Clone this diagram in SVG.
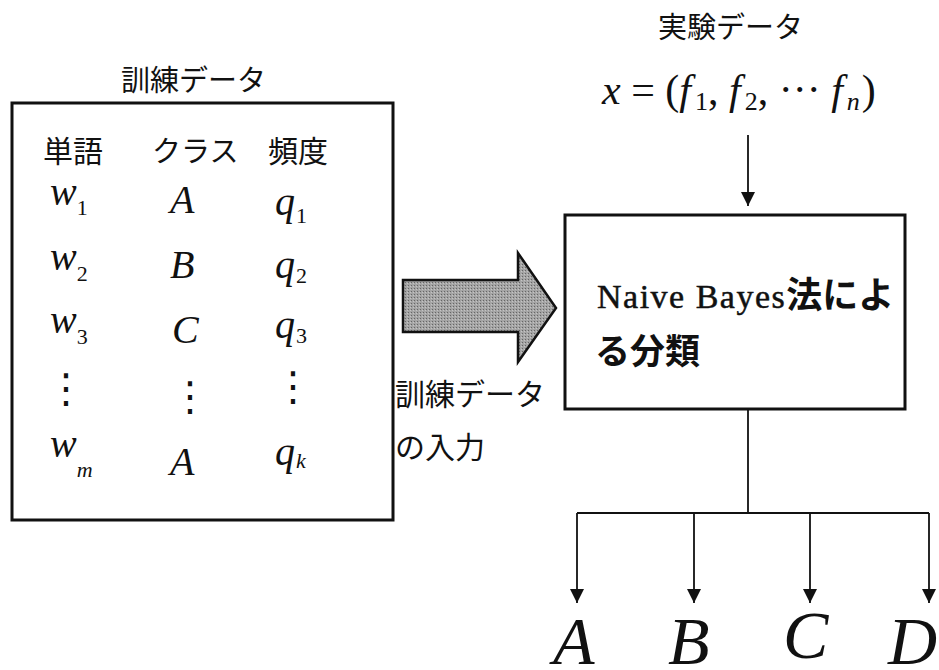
<svg xmlns="http://www.w3.org/2000/svg" width="939" height="670" viewBox="0 0 939 670">
<defs>
<style>
.jp{font-family:"Noto Sans CJK JP",sans-serif;fill:#111}
.m{font-family:"Liberation Serif",serif;font-style:italic;fill:#111}
.up{font-style:normal}
.box{fill:#fff;stroke:#111;stroke-width:3}
.ln{fill:none;stroke:#111;stroke-width:1.8}
.dots{font-family:"DejaVu Sans",sans-serif;fill:#111}
</style>
<marker id="ah" viewBox="0 0 14 14" refX="14" refY="7" markerWidth="14" markerHeight="14" markerUnits="userSpaceOnUse" orient="auto">
<path d="M0,0 L14,7 L0,14 z" fill="#111"/>
</marker>
<pattern id="stip" width="3" height="3" patternUnits="userSpaceOnUse">
<rect width="3" height="3" fill="#a4a4a4"/>
<rect width="1" height="1" fill="#666"/>
<rect x="2" y="1" width="1" height="1" fill="#c4c4c4"/>
</pattern>
</defs>
<rect width="939" height="670" fill="#fff"/>

<g id="training-data">
<text class="jp" x="121" y="91" font-size="29">訓練データ</text>
<rect class="box" x="12" y="103" width="381" height="417"/>
<text class="jp" x="43" y="162" font-size="30">単語</text>
<text class="jp" x="152" y="162" font-size="29">クラス</text>
<text class="jp" x="268" y="162" font-size="30">頻度</text>

<text class="m" x="50" y="205" font-size="40">w<tspan class="up" font-size="22" dy="10">1</tspan></text>
<text class="m" x="170" y="213" font-size="40">A</text>
<text class="m" x="275" y="215" font-size="40">q<tspan class="up" font-size="22" dx="1" dy="8">1</tspan></text>

<text class="m" x="50" y="270" font-size="40">w<tspan class="up" font-size="22" dy="11">2</tspan></text>
<text class="m" x="170" y="278" font-size="40">B</text>
<text class="m" x="275" y="278" font-size="40">q<tspan class="up" font-size="22" dx="1" dy="5">2</tspan></text>

<text class="m" x="50" y="333" font-size="40">w<tspan class="up" font-size="22" dy="11">3</tspan></text>
<text class="m" x="172" y="343" font-size="40">C</text>
<text class="m" x="275" y="338" font-size="40">q<tspan class="up" font-size="22" dx="1" dy="5">3</tspan></text>

<text class="dots" x="46" y="402" font-size="40">⋮</text>
<text class="dots" x="170" y="410" font-size="40">⋮</text>
<text class="dots" x="273" y="400" font-size="40">⋮</text>

<text class="m" x="50" y="457" font-size="40">w<tspan font-size="22" dy="20">m</tspan></text>
<text class="m" x="170" y="475" font-size="40">A</text>
<text class="m" x="275" y="465" font-size="40">q<tspan font-size="22" dx="1" dy="3">k</tspan></text>
</g>

<g id="input-arrow">
<polygon points="403,280 518,280 518,253 556,308 518,362 518,332 403,332" fill="url(#stip)" stroke="#111" stroke-width="2.5" stroke-linejoin="miter"/>
<text class="jp" x="395" y="405" font-size="30">訓練データ</text>
<text class="jp" x="395" y="458" font-size="30">の入力</text>
</g>

<g id="test-data">
<text class="jp" x="658" y="38" font-size="29">実験データ</text>
<text class="m" x="602" y="104" font-size="42">x<tspan class="up"> = (</tspan>f<tspan class="up" font-size="26" dx="4" dy="6">1</tspan><tspan class="up" dy="-6">, </tspan>f<tspan class="up" font-size="26" dx="4" dy="6">2</tspan><tspan class="up" dy="-6">, ··· </tspan>f<tspan font-size="26" dx="4" dy="6">n</tspan><tspan class="up" dx="2" dy="-6">)</tspan></text>
</g>

<g id="classifier">
<rect class="box" x="565" y="215" width="340" height="194"/>
<text x="597" y="308" style="font-family:'Liberation Serif','Noto Sans CJK JP',serif;fill:#111"><tspan font-size="34" letter-spacing="1.5" stroke="#111" stroke-width="0.5">Naive Bayes</tspan><tspan font-size="36" font-weight="bold" style="font-family:'Noto Sans CJK JP',sans-serif">法によ</tspan></text>
<text class="jp" x="595" y="364" font-size="35" font-weight="bold">る分類</text>
</g>

<g id="class-labels">
<text class="m" x="553" y="664" font-size="68">A</text>
<text class="m" x="668" y="664" font-size="68">B</text>
<text class="m" x="783" y="658" font-size="68">C</text>
<text class="m" x="888" y="664" font-size="68">D</text>
</g>

<g id="connectors">
<line class="ln" x1="748" y1="135" x2="748" y2="206" marker-end="url(#ah)"/>
<polyline class="ln" points="748,409 748,513"/>
<line class="ln" x1="577" y1="513" x2="929" y2="513"/>
<line class="ln" x1="577" y1="513" x2="577" y2="603" marker-end="url(#ah)"/>
<line class="ln" x1="694" y1="513" x2="694" y2="603" marker-end="url(#ah)"/>
<line class="ln" x1="810" y1="513" x2="810" y2="603" marker-end="url(#ah)" stroke-width="3"/>
<line class="ln" x1="929" y1="513" x2="929" y2="603" marker-end="url(#ah)"/>
</g>
</svg>
